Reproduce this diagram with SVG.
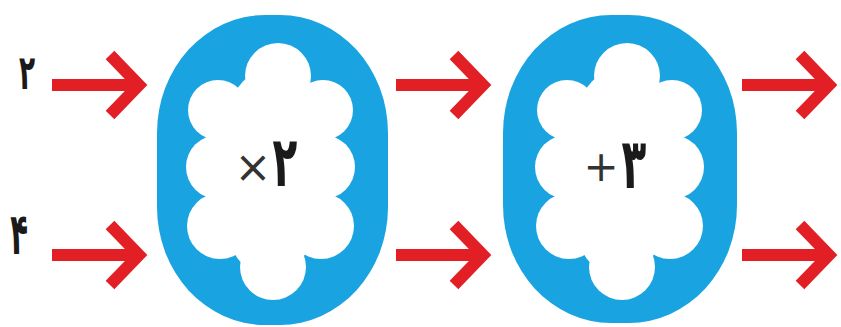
<svg xmlns="http://www.w3.org/2000/svg" width="841" height="327" viewBox="0 0 841 327">
  <style>
    .blob { fill: #1aa3e1; }
    .cloud { fill: #ffffff; }
    .arrow { fill: none; stroke: #e31f26; stroke-width: 12; stroke-linejoin: miter; stroke-linecap: butt; stroke-miterlimit: 10; }
    .num { font-family: "DejaVu Sans", sans-serif; font-weight: bold; fill: #1a1a1a; text-anchor: middle; }
    .op { font-family: "DejaVu Sans", "Liberation Sans", sans-serif; fill: #333333; text-anchor: middle; }
  </style>
  <defs>
    <g id="cloudShape">
      <circle cx="8" cy="76" r="33"/>
      <circle cx="0" cy="108" r="38"/>
      <circle cx="-52" cy="110" r="30"/>
      <circle cx="-52" cy="167" r="32"/>
      <circle cx="-50" cy="226" r="33"/>
      <circle cx="53" cy="110" r="30"/>
      <circle cx="53" cy="167" r="32"/>
      <circle cx="51" cy="226" r="33"/>
      <circle cx="0" cy="235" r="40"/>
      <circle cx="3" cy="267" r="33"/>
      <rect x="-50" y="95" width="100" height="155"/>
    </g>
    <path id="arrowShape" d="M-96,0 H-10 M-38,-30 L-9,0 L-38,30"/>
  </defs>

  <g id="label-2">
    <text class="num" font-size="48" transform="translate(27,89) scale(0.55,1)">۲</text>
  </g>
  <g id="label-4">
    <text class="num" font-size="58" transform="translate(19,254) scale(0.5,1)">۴</text>
  </g>

  <g id="node-times2">
    <rect class="blob" x="157" y="15" width="231" height="310" rx="108" ry="118"/>
    <use href="#cloudShape" class="cloud" transform="translate(270,0)"/>
    <text class="op" x="253" y="182" font-size="44">×</text>
    <text class="num" font-size="70" transform="translate(285,186) scale(0.58,1)">۲</text>
  </g>

  <g id="node-plus3">
    <rect class="blob" x="503" y="15" width="234" height="308" rx="108" ry="118"/>
    <use href="#cloudShape" class="cloud" transform="translate(619,0)"/>
    <text class="op" x="601" y="181" font-size="42">+</text>
    <text class="num" font-size="70" transform="translate(634,188) scale(0.58,1)">۳</text>
  </g>

  <g id="connectors" class="arrow">
    <use href="#arrowShape" transform="translate(148,85)"/>
    <use href="#arrowShape" transform="translate(148,255)"/>
    <use href="#arrowShape" transform="translate(492,85)"/>
    <use href="#arrowShape" transform="translate(492,255)"/>
    <use href="#arrowShape" transform="translate(838,85)"/>
    <use href="#arrowShape" transform="translate(838,255)"/>
  </g>
</svg>
